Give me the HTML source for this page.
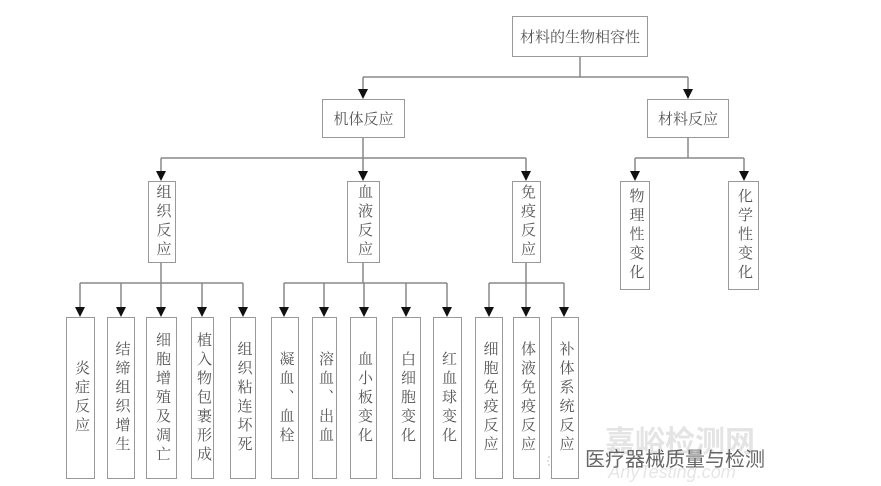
<!DOCTYPE html>
<html><head><meta charset="utf-8"><style>
body{margin:0;width:881px;height:486px;background:#fff;position:relative;overflow:hidden;font-family:"Liberation Serif","Noto Serif CJK SC","Noto Sans CJK SC",serif;color:#555}
.b{position:absolute;border:1.5px solid #999;box-sizing:border-box;display:flex;align-items:center;justify-content:center;font-size:15px;background:#fff}
.v{writing-mode:vertical-rl;letter-spacing:4px;line-height:1}
svg{position:absolute;left:0;top:0}
</style></head><body>
<svg width="881" height="486">
<defs><path id="t" d="M-5,-10 L5,-10 L0,0z" fill="#111"/></defs>
<g stroke="#888" stroke-width="1.5" fill="none">
<path d="M580,57V77M363,77H688M363,77V90M688,77V90"/>
<path d="M363,138V158M161,158H526M688,138V158M635,158H744M161,158V172M363,158V172M526,158V172M635,158V172M744,158V172"/>
<path d="M161,262V283M80,283H243M363,262V283M284,283H447M526,262V283M489,283H564"/>
<path d="M80,283V308M121,283V308M161,283V308M202,283V308M243,283V308M284,283V308M324,283V308M364,283V308M406,283V308M447,283V308M489,283V308M526,283V308M564,283V308"/>
</g>
<use href="#t" x="363" y="99"/><use href="#t" x="688" y="99"/>
<use href="#t" x="161" y="181"/><use href="#t" x="363" y="181"/><use href="#t" x="526" y="181"/><use href="#t" x="635" y="181"/><use href="#t" x="744" y="181"/>
<use href="#t" x="80" y="317"/><use href="#t" x="121" y="317"/><use href="#t" x="161" y="317"/><use href="#t" x="202" y="317"/><use href="#t" x="243" y="317"/>
<use href="#t" x="284" y="317"/><use href="#t" x="324" y="317"/><use href="#t" x="364" y="317"/><use href="#t" x="406" y="317"/><use href="#t" x="447" y="317"/>
<use href="#t" x="489" y="317"/><use href="#t" x="526" y="317"/><use href="#t" x="564" y="317"/>
<text x="680" y="452" font-size="30" fill="#e4e4e4" text-anchor="middle" font-family="Noto Sans CJK SC,sans-serif" font-weight="bold">嘉峪检测网</text>
<text x="672" y="478" font-size="18" fill="#e6e6e6" text-anchor="middle" font-style="italic" font-family="Liberation Sans,sans-serif">AnyTesting.com</text>
<text x="585" y="466" font-size="20" fill="#666" font-family="Noto Sans CJK SC,sans-serif">医疗器械质量与检测</text>
<circle cx="556" cy="461" r="8" fill="none" stroke="#bbb" stroke-dasharray="2 2"/>
<circle cx="566" cy="465" r="7" fill="none" stroke="#bbb" stroke-dasharray="2 2"/>
</svg>
<div class="b" style="left:512px;top:16px;width:136px;height:41px">材料的生物相容性</div>
<div class="b" style="left:322px;top:99px;width:83px;height:39px">机体反应</div>
<div class="b" style="left:647px;top:99px;width:82px;height:39px">材料反应</div>
<div class="b" style="left:148px;top:181px;width:28px;height:82px"><span class="v">组织反应</span></div>
<div class="b" style="left:347px;top:181px;width:33px;height:82px"><span class="v">血液反应</span></div>
<div class="b" style="left:512px;top:181px;width:29px;height:82px"><span class="v">免疫反应</span></div>
<div class="b" style="left:620px;top:181px;width:30px;height:109px"><span class="v">物理性变化</span></div>
<div class="b" style="left:728px;top:181px;width:31px;height:109px"><span class="v">化学性变化</span></div>
<div class="b" style="left:66px;top:317px;width:29px;height:162px"><span class="v">炎症反应</span></div>
<div class="b" style="left:107px;top:317px;width:28px;height:162px"><span class="v">结缔组织增生</span></div>
<div class="b" style="left:146px;top:317px;width:31px;height:162px"><span class="v">细胞增殖及凋亡</span></div>
<div class="b" style="left:191px;top:317px;width:23px;height:162px"><span class="v">植入物包裹形成</span></div>
<div class="b" style="left:230px;top:317px;width:26px;height:162px"><span class="v">组织粘连坏死</span></div>
<div class="b" style="left:271px;top:317px;width:28px;height:162px"><span class="v">凝血、血栓</span></div>
<div class="b" style="left:312px;top:317px;width:25px;height:162px"><span class="v">溶血、出血</span></div>
<div class="b" style="left:350px;top:317px;width:27px;height:162px"><span class="v">血小板变化</span></div>
<div class="b" style="left:392px;top:317px;width:29px;height:162px"><span class="v">白细胞变化</span></div>
<div class="b" style="left:433px;top:317px;width:29px;height:162px"><span class="v">红血球变化</span></div>
<div class="b" style="left:475px;top:317px;width:28px;height:162px"><span class="v">细胞免疫反应</span></div>
<div class="b" style="left:513px;top:317px;width:27px;height:162px"><span class="v">体液免疫反应</span></div>
<div class="b" style="left:551px;top:317px;width:28px;height:162px"><span class="v">补体系统反应</span></div>
</body></html>
